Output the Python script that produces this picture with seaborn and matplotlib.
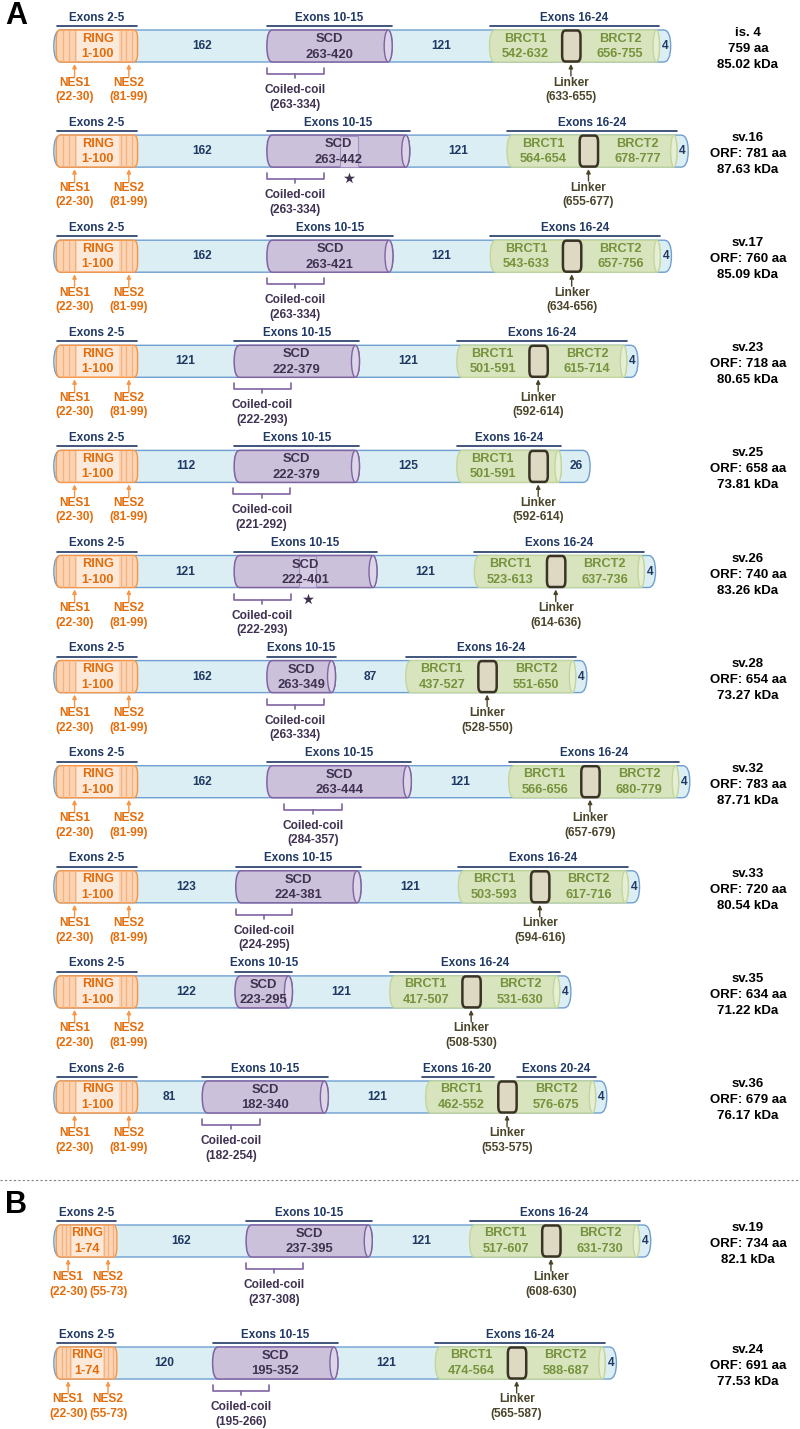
import numpy as np
import pandas as pd
import matplotlib
matplotlib.use("Agg")
import matplotlib.pyplot as plt
from matplotlib.patches import FancyBboxPatch, Ellipse, Rectangle
import seaborn as sns

# ---------------- data ----------------
names = ["is. 4", "sv.16", "sv.17", "sv.23", "sv.25", "sv.26", "sv.28", "sv.32",
         "sv.33", "sv.35", "sv.36", "sv.19", "sv.24"]
panels = ["A"] * 11 + ["B"] * 2
lengths = [759, 781, 760, 718, 658, 740, 654, 783, 720, 634, 679, 734, 691]
orf_text = ["759 aa", "ORF: 781 aa", "ORF: 760 aa", "ORF: 718 aa", "ORF: 658 aa",
            "ORF: 740 aa", "ORF: 654 aa", "ORF: 783 aa", "ORF: 720 aa", "ORF: 634 aa",
            "ORF: 679 aa", "ORF: 734 aa", "ORF: 691 aa"]
kda_text = ["85.02 kDa", "87.63 kDa", "85.09 kDa", "80.65 kDa", "73.81 kDa", "83.26 kDa",
            "73.27 kDa", "87.71 kDa", "80.54 kDa", "71.22 kDa", "76.17 kDa", "82.1 kDa",
            "77.53 kDa"]
ring_end = [100] * 11 + [74] * 2
nes1 = [(22, 30)] * 13
nes2 = [(81, 99)] * 11 + [(55, 73)] * 2
scd = [(263, 420), (263, 442), (263, 421), (222, 379), (222, 379), (222, 401), (263, 349),
       (263, 444), (224, 381), (223, 295), (182, 340), (237, 395), (195, 352)]
scd_insert = [None, (355, 377), None, None, None, (303, 325), None, None, None, None,
              None, None, None]
coiled = [(263, 334), (263, 334), (263, 334), (222, 293), (221, 292), (222, 293),
          (263, 334), (284, 357), (224, 295), None, (182, 254), (237, 308), (195, 266)]
brct1 = [(542, 632), (564, 654), (543, 633), (501, 591), (501, 591), (523, 613),
         (437, 527), (566, 656), (503, 593), (417, 507), (462, 552), (517, 607), (474, 564)]
linker = [(633, 655), (655, 677), (634, 656), (592, 614), (592, 614), (614, 636),
          (528, 550), (657, 679), (594, 616), (508, 530), (553, 575), (608, 630), (565, 587)]
brct2 = [(656, 755), (678, 777), (657, 756), (615, 714), (615, 632), (637, 736),
         (551, 650), (680, 779), (617, 716), (531, 630), (576, 675), (631, 730), (588, 687)]
brct2_named = [True, True, True, True, False, True, True, True, True, True, True, True, True]
gap_labels = [("162", "121", "4"), ("162", "121", "4"), ("162", "121", "4"),
              ("121", "121", "4"), ("112", "125", "26"), ("121", "121", "4"),
              ("162", "87", "4"), ("162", "121", "4"), ("123", "121", "4"),
              ("122", "121", "4"), ("81", "121", "4"), ("162", "121", "4"),
              ("120", "121", "4")]
exon_ring = ["Exons 2-5"] * 10 + ["Exons 2-6"] + ["Exons 2-5"] * 2
exon_scd = ["Exons 10-15"] * 13
exon_brct_split = [False] * 10 + [True] + [False] * 2

# ---------------- styles ----------------
NAVY = "#1f3864"
ORANGE_T = "#e46c0a"
PURPLE_T = "#3f3151"
GREEN_T = "#76923c"
OLIVE_T = "#4a452a"

sns.set_theme(style="white")
plt.rcParams['font.family'] = ['Liberation Sans', 'DejaVu Sans']

W, H = 800, 1429
fig = plt.figure(figsize=(W / 100, H / 100), dpi=100)
ax = fig.add_axes([0, 0, 1, 1])
PX0, PXS = 57.0, 0.798
XL = (-PX0 / PXS, (W - PX0) / PXS)


def px2aa(px):
    return (px - PX0) / PXS


BAR_H = 32


def rbox(x0, x1, yc, h, r, vr, fc, ec, lw, z):
    p = FancyBboxPatch((x0, yc - h / 2), x1 - x0, h,
                       boxstyle=f"round,pad=0,rounding_size={r}",
                       mutation_aspect=vr / r, fc=fc, ec=ec, lw=lw, zorder=z)
    ax.add_patch(p)


def txt(x, y, s, color, size, ha="center"):
    ax.text(x, y, s, color=color, fontsize=size, fontweight="bold", ha=ha,
            va="center", zorder=12)


def arrow(x, y0, y1, color):
    ax.annotate("", xy=(x, y1), xytext=(x, y0),
                arrowprops=dict(arrowstyle="-|>", color=color, lw=1.0,
                                mutation_scale=6, shrinkA=0, shrinkB=0), zorder=11)


row_y = [46 + i * 105.1 for i in range(11)] + [1241, 1363]

star_x, star_y = [], []

for i in range(len(names)):
    cy = row_y[i]
    L = lengths[i]
    # main bar
    rbox(-4, L + 10, cy, BAR_H, 9, BAR_H / 2, "#daeef3", "#6f9fd0", 1.0, 1)

    # RING
    re_ = ring_end[i]
    rbox(-1, re_ + 1, cy, BAR_H, 5, 9, "#fbd4b4", "#f79646", 1.0, 2)
    ax.add_patch(Rectangle((re_ * 0.25, cy - BAR_H / 2 + 1), re_ * 0.53, BAR_H - 2,
                           fc="#fde9d9", ec="none", zorder=3))
    for f in [0.08, 0.15, 0.22, 0.80, 0.87, 0.94]:
        ax.plot([re_ * f, re_ * f], [cy - BAR_H / 2 + 1, cy + BAR_H / 2 - 1],
                color="#f5b17f", lw=0.9, zorder=3)
    txt(re_ / 2 + 1, cy - 7.5, "RING", ORANGE_T, 9.2)
    txt(re_ / 2 + 1, cy + 8, f"1-{re_}", ORANGE_T, 9.2)

    # SCD cylinder
    s0, s1 = scd[i]
    rbox(s0, s1, cy, BAR_H, 7, BAR_H / 2, "#ccc1da", "#8064a2", 1.1, 2)
    if scd_insert[i] is not None:
        a, b = scd_insert[i]
        ax.add_patch(Rectangle((a, cy - BAR_H / 2 + 0.5), b - a, BAR_H - 1,
                               fc="#d5cce3", ec="#a491c2", lw=0.8, zorder=3))
        star_x.append((a + b) / 2)
        star_y.append(cy + 27)
    ax.add_patch(Ellipse((s1 - 5, cy), 10, BAR_H, fc="#ddd5e8", ec="#8064a2",
                         lw=1.0, zorder=4))
    txt((s0 + s1) / 2, cy - 7, "SCD", PURPLE_T, 9.4)
    txt((s0 + s1) / 2, cy + 8.5, f"{s0}-{s1}", PURPLE_T, 9.4)

    # BRCT region
    b10, b11 = brct1[i]
    b20, b21 = brct2[i]
    rbox(b10, b21, cy, BAR_H, 7, BAR_H / 2, "#d7e4bd", "#c3d69b", 1.0, 2)
    ax.add_patch(Ellipse((b21 - 4, cy), 8, BAR_H, fc="#e6efd6", ec="#c3d69b",
                         lw=1.0, zorder=4))
    l0, l1 = linker[i]
    rbox(l0, l1 + 1, cy, BAR_H - 1, 4, 6, "#ddd9c3", "#3b3426", 1.8, 5)
    txt((b10 + b11) / 2, cy - 7.5, "BRCT1", GREEN_T, 9.2)
    txt((b10 + b11) / 2, cy + 8, f"{b10}-{b11}", GREEN_T, 9.2)
    if brct2_named[i]:
        txt((b20 + b21) / 2, cy - 7.5, "BRCT2", GREEN_T, 9.2)
        txt((b20 + b21) / 2, cy + 8, f"{b20}-{b21}", GREEN_T, 9.2)

    # gap numbers
    g1, g2, g3 = gap_labels[i]
    txt((re_ + s0) / 2, cy, g1, NAVY, 8.6)
    txt((s1 + b10) / 2, cy, g2, NAVY, 8.6)
    txt((b21 + L + 10) / 2, cy, g3, NAVY, 8.6)

    # exon labels
    ex = [(exon_ring[i], 0, re_), (exon_scd[i], s0, s1)]
    if exon_brct_split[i]:
        ex += [("Exons 16-20", b10 - 5, b11 - 5), ("Exons 20-24", b20, b21)]
    else:
        ex += [("Exons 16-24", b10, b21)]
    for lab, a, b in ex:
        ax.plot([a, b], [cy - 20, cy - 20], color=NAVY, lw=1.2, zorder=6)
        txt((a + b) / 2, cy - 28.5, lab, NAVY, 8.4)

    # NES arrows
    n2x = (nes2[i][0] + nes2[i][1]) / 2
    n1x = min(nes1[i][0], n2x - 50)
    for x, lab, rng in [(n1x, "NES1", nes1[i]), (n2x, "NES2", nes2[i])]:
        arrow(x, cy + 31, cy + 18, "#f79646")
        txt(x, cy + 36.5, lab, ORANGE_T, 8.6)
        txt(x, cy + 51, f"({rng[0]}-{rng[1]})", ORANGE_T, 8.6)

    # coiled coil bracket
    if coiled[i] is not None:
        c0, c1 = coiled[i]
        cm = (c0 + c1) / 2
        ax.plot([c0, c0, c1, c1], [cy + 22, cy + 28, cy + 28, cy + 22],
                color="#8064a2", lw=1.2, zorder=6)
        ax.plot([cm, cm], [cy + 28, cy + 32], color="#8064a2", lw=1.2, zorder=6)
        txt(cm, cy + 44, "Coiled-coil", PURPLE_T, 8.6)
        txt(cm, cy + 58.5, f"({c0}-{c1})", PURPLE_T, 8.6)

    # linker arrow
    lm = (l0 + l1) / 2
    arrow(lm, cy + 30, cy + 18, OLIVE_T)
    txt(lm, cy + 36.5, "Linker", OLIVE_T, 8.6)
    txt(lm, cy + 51, f"({l0}-{l1})", OLIVE_T, 8.6)

    # right labels
    rx = px2aa(748)
    txt(rx, cy - 13, names[i], "black", 9.5)
    txt(rx, cy + 3, orf_text[i], "black", 9.5)
    txt(rx, cy + 19, kda_text[i], "black", 9.5)

# stars via seaborn
star_df = pd.DataFrame({"x": star_x, "y": star_y})
sns.scatterplot(data=star_df, x="x", y="y", marker="*", s=70, color=PURPLE_T,
                linewidth=0, ax=ax, legend=False, zorder=12)

# separator and panel letters
ax.plot(XL, [1180, 1180], color="#808080", lw=0.8, ls=(0, (2, 2)), zorder=1)
ax.text(px2aa(5), 16, "A", fontsize=22, fontweight="bold", color="black",
        ha="left", va="center")
ax.text(px2aa(5), 1205, "B", fontsize=22, fontweight="bold", color="black",
        ha="left", va="center")

ax.set_xlim(*XL)
ax.set_ylim(H, 0)
ax.axis("off")
fig.savefig("out.png", dpi=100, facecolor="white")
